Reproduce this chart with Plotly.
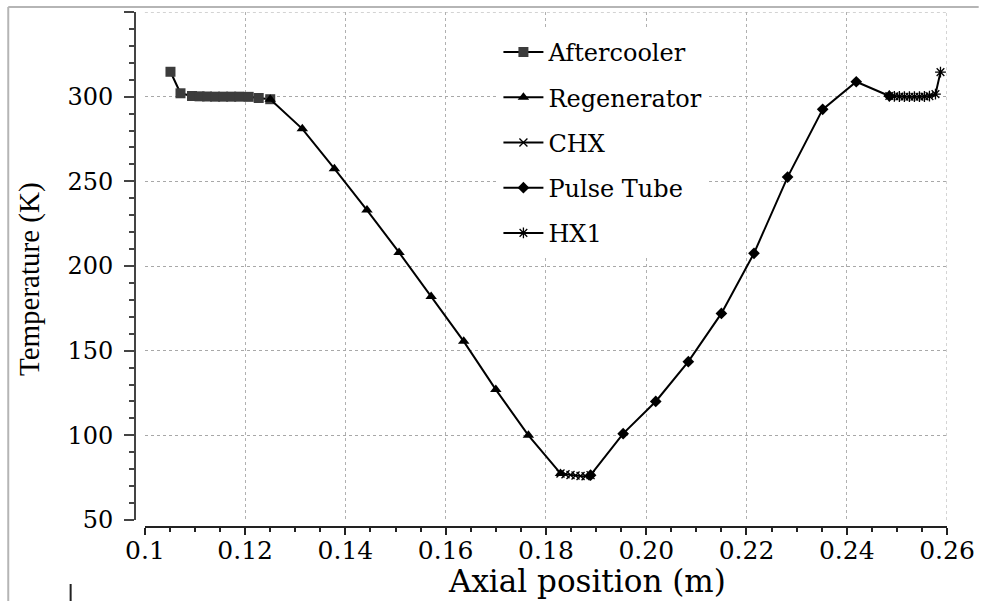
import plotly.graph_objects as go

# Axial temperature profile along the cold head, one trace per component
aftercooler_x = [0.1051, 0.1071, 0.1094, 0.1109, 0.1124, 0.1140, 0.1156, 0.1172, 0.1188, 0.1207, 0.1227, 0.1250]
aftercooler_T = [314.7, 302.0, 300.4, 300.2, 300.1, 300.0, 300.0, 300.0, 300.0, 299.9, 299.2, 298.5]

regenerator_x = [0.1250, 0.1314, 0.1378, 0.1443, 0.1507, 0.1571, 0.1636, 0.1700, 0.1765, 0.1829]
regenerator_T = [298.5, 281.0, 257.5, 233.0, 208.0, 182.0, 155.5, 127.0, 100.0, 77.5]

chx_x = [0.1829, 0.1839, 0.1849, 0.1859, 0.1869, 0.1879, 0.1889]
chx_T = [77.5, 77.0, 76.6, 76.3, 76.0, 75.8, 76.5]

pulse_tube_x = [0.1889, 0.1954, 0.2019, 0.2084, 0.2150, 0.2215, 0.2282, 0.2352, 0.2419, 0.2485]
pulse_tube_T = [76.5, 101.0, 120.0, 143.5, 172.0, 207.5, 252.5, 292.5, 308.8, 300.4]

hx1_x = [0.2485, 0.2495, 0.2505, 0.2515, 0.2525, 0.2535, 0.2545, 0.2555, 0.2565, 0.2577, 0.2587]
hx1_T = [300.4, 300.2, 300.1, 300.0, 300.0, 300.0, 300.0, 300.1, 300.3, 301.5, 314.5]

x_tick_vals = [0.10, 0.12, 0.14, 0.16, 0.18, 0.20, 0.22, 0.24, 0.26]
x_tick_text = ["0.1", "0.12", "0.14", "0.16", "0.18", "0.20", "0.22", "0.24", "0.26"]
y_tick_vals = [50, 100, 150, 200, 250, 300, 350]

WIDE_SERIF = "DejaVu Serif, serif"
SERIF = "Times New Roman, Liberation Serif, serif"

# Pixel layout of the figure
W, H = 987, 601
PX_L, PX_R = 135, 955     # paper area horizontal extent (y axis line at left edge)
PX_T, PX_B = 12, 527      # paper area vertical extent (x axis line at bottom edge)
PLOT_L, PLOT_B = 145, 520  # gridded plot box starts a little inside the axis lines


def px_to_paper(px, py):
    return (px - PX_L) / (PX_R - PX_L), (PX_B - py) / (PX_B - PX_T)


series = [
    ("Aftercooler", aftercooler_x, aftercooler_T, dict(symbol="square", size=10, color="#3c3c3c")),
    ("Regenerator", regenerator_x, regenerator_T, dict(symbol="triangle-up", size=10, color="black")),
    ("CHX", chx_x, chx_T, dict(symbol="x-thin-open", size=8, color="black", line=dict(width=1.3, color="black"))),
    ("Pulse Tube", pulse_tube_x, pulse_tube_T, dict(symbol="diamond", size=9, color="black")),
    ("HX1", hx1_x, hx1_T, dict(symbol="asterisk-open", size=9, color="black", line=dict(width=1.3, color="black"))),
]

fig = go.Figure()
for name, xs, ys, marker in series:
    fig.add_trace(go.Scatter(
        x=xs, y=ys, name=name, mode="lines+markers",
        line=dict(color="black", width=2),
        marker=marker,
        legendgroup=name,
    ))

x_dom0 = (PLOT_L - PX_L) / (PX_R - PX_L)
y_dom0 = (PX_B - PLOT_B) / (PX_B - PX_T)

fig.update_layout(
    width=W, height=H,
    margin=dict(l=PX_L, r=W - PX_R, t=PX_T, b=H - PX_B, pad=0),
    paper_bgcolor="white", plot_bgcolor="white",
    font=dict(family=WIDE_SERIF, color="black"),
    showlegend=True,
    legend=dict(
        x=px_to_paper(502, 0)[0], y=px_to_paper(0, 30)[1],
        xanchor="left", yanchor="top",
        bgcolor="white", borderwidth=0,
        font=dict(family=WIDE_SERIF, size=24, color="black"),
        tracegroupgap=11, itemwidth=40,
    ),
    xaxis=dict(
        domain=[x_dom0, 1], range=[0.1, 0.26], anchor="free", position=0,
        tickmode="array", tickvals=x_tick_vals, ticktext=x_tick_text,
        ticks="outside", ticklen=7, tickwidth=2, tickcolor="#222",
        minor=dict(dtick=0.005, tick0=0.1, ticks="outside", ticklen=4, tickwidth=1.5,
                   tickcolor="#222", showgrid=False),
        showline=True, linecolor="#222", linewidth=2,
        showgrid=True, gridcolor="#b0b0b0", gridwidth=1, griddash="dot",
        tickfont=dict(family=WIDE_SERIF, size=25, color="black"),
        ticklabelstandoff=-6,
        zeroline=False,
    ),
    yaxis=dict(
        domain=[y_dom0, 1], range=[50, 350], anchor="free", position=0,
        tickmode="array", tickvals=y_tick_vals,
        ticks="outside", ticklen=10, tickwidth=2, tickcolor="#444",
        minor=dict(dtick=10, tick0=50, ticks="outside", ticklen=5, tickwidth=1.5,
                   tickcolor="#444", showgrid=False),
        showline=True, linecolor="#444", linewidth=2,
        showgrid=True, gridcolor="#a8a8a8", gridwidth=1, griddash="dot",
        tickfont=dict(family=WIDE_SERIF, size=24, color="black"),
        ticklabelstandoff=6,
        zeroline=False,
    ),
)

# Right and top edges of the gridded box
fig.add_shape(type="line", xref="x", yref="paper", x0=0.26, x1=0.26, y0=y_dom0, y1=1,
              line=dict(color="#a8a8a8", width=1, dash="dot"), layer="below")
fig.add_shape(type="line", xref="paper", yref="y", x0=x_dom0, x1=1, y0=350, y1=350,
              line=dict(color="#a8a8a8", width=1, dash="dot"), layer="below")

# Axis titles
tx, ty = px_to_paper(591, 581)
fig.add_annotation(text="Axial position (m)", x=tx, y=ty, xref="paper", yref="paper",
                   xanchor="center", yanchor="middle",
                   showarrow=False, font=dict(family=WIDE_SERIF, size=31, color="black"))
tx, ty = px_to_paper(28, 279)
fig.add_annotation(text="Temperature (K)", x=tx, y=ty, xref="paper", yref="paper",
                   xanchor="center", yanchor="middle",
                   textangle=-90, showarrow=False, font=dict(family=SERIF, size=29, color="black"))

# Outer frame edges and a small mark at the lower left
fx0, fy0 = px_to_paper(7, 7)
fx1, _ = px_to_paper(W, 7)
_, fyb = px_to_paper(7, H)
fig.add_shape(type="line", xref="paper", yref="paper", x0=fx0, x1=fx1, y0=fy0, y1=fy0,
              line=dict(color="#b5b5b5", width=2))
fig.add_shape(type="line", xref="paper", yref="paper", x0=fx0, x1=fx0, y0=fy0, y1=fyb,
              line=dict(color="#b5b5b5", width=2))
mx, my0 = px_to_paper(70, 584)
_, my1 = px_to_paper(70, H)
fig.add_shape(type="line", xref="paper", yref="paper", x0=mx, x1=mx, y0=my0, y1=my1,
              line=dict(color="#222", width=2))

fig.write_html("out.html")
